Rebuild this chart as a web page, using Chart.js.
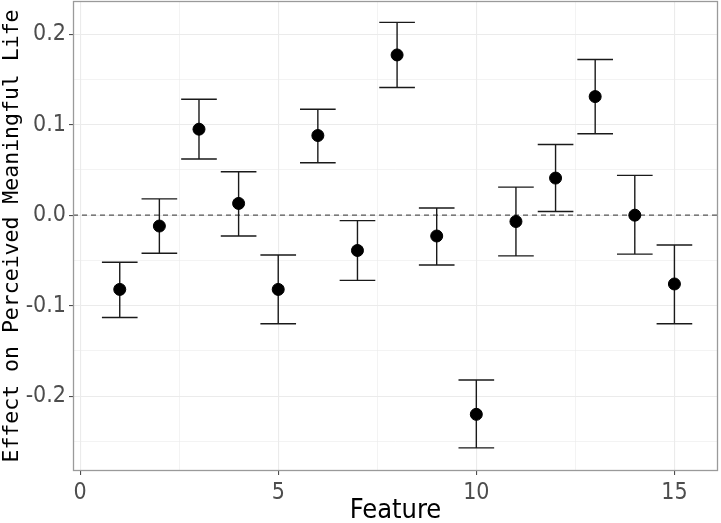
<!DOCTYPE html>
<html>
<head>
<meta charset="utf-8">
<script src="https://cdn.jsdelivr.net/npm/chart.js@4"></script>
<style>
  html, body { margin: 0; padding: 0; background: #fff; }
  #wrap { width: 721px; height: 523px; }
</style>
</head>
<body>
<div id="wrap"><canvas id="chart" width="721" height="523"></canvas></div>
<script>
//----- Data -----//

const features = [1, 2, 3, 4, 5, 6, 7, 8, 9, 10, 11, 12, 13, 14, 15]
const effect = [-0.082, -0.012, 0.095, 0.013, -0.082, 0.088, -0.039, 0.177, -0.023, -0.220, -0.007, 0.041, 0.131, 0.000, -0.076]
const lower = [-0.113, -0.042, 0.062, -0.023, -0.120, 0.058, -0.072, 0.141, -0.055, -0.257, -0.045, 0.004, 0.090, -0.043, -0.120]
const upper = [-0.052, 0.018, 0.128, 0.048, -0.044, 0.117, -0.006, 0.213, 0.008, -0.182, 0.031, 0.078, 0.172, 0.044, -0.033]

const xTicks = [0, 2.5, 5, 7.5, 10, 12.5, 15]
const yTicks = [-0.25, -0.2, -0.15, -0.1, -0.05, 0, 0.05, 0.1, 0.15, 0.2]

//----- Build the series -----//

const capHalf = 0.45
const points = features.map((f, i) => ({ x: f, y: effect[i] }))

const bars = []
features.forEach((f, i) => {
  bars.push({ x: f, y: lower[i] }, { x: f, y: upper[i] }, { x: f, y: null })
  bars.push({ x: f - capHalf, y: upper[i] }, { x: f + capHalf, y: upper[i] }, { x: f, y: null })
  bars.push({ x: f - capHalf, y: lower[i] }, { x: f + capHalf, y: lower[i] }, { x: f, y: null })
})

const xMin = -0.18, xMax = 16.1
const yMin = -0.2826, yMax = 0.2366

const isMajorX = v => v % 5 === 0
const isMajorY = v => Math.round(v * 100) % 10 === 0

//----- Panel border -----//

const panelBorder = {
  id: 'panelBorder',
  afterDatasetsDraw(chart) {
    const a = chart.chartArea
    const ctx = chart.ctx
    ctx.save()
    ctx.strokeStyle = '#9a9a9a'
    ctx.lineWidth = 1.3
    ctx.strokeRect(a.left + 0.5, a.top + 0.5, a.right - a.left - 1, a.bottom - a.top - 1)
    ctx.restore()
  }
}

//----- Chart -----//

const tickFont = { family: '"Liberation Sans Narrow", "DejaVu Sans Condensed", sans-serif', size: 23 }

new Chart(document.getElementById('chart'), {
  type: 'scatter',
  data: {
    datasets: [
      {
        data: points,
        backgroundColor: '#000',
        borderColor: '#000',
        pointRadius: 6,
        pointHoverRadius: 6,
        order: 0
      },
      {
        data: bars,
        showLine: true,
        spanGaps: false,
        borderColor: '#1a1a1a',
        borderWidth: 1.4,
        pointRadius: 0,
        order: 1
      },
      {
        data: [{ x: xMin, y: 0 }, { x: xMax, y: 0 }],
        showLine: true,
        borderColor: '#555',
        borderWidth: 1.3,
        borderDash: [5, 4],
        pointRadius: 0,
        order: 2
      }
    ]
  },
  options: {
    responsive: false,
    animation: false,
    layout: { autoPadding: false, padding: { top: 1, right: 3, left: 0, bottom: 0 } },
    plugins: { legend: { display: false }, tooltip: { enabled: false } },
    scales: {
      x: {
        type: 'linear',
        min: xMin,
        max: xMax,
        afterBuildTicks: s => { s.ticks = xTicks.map(v => ({ value: v })) },
        afterFit: s => { s.height = 52; s.paddingLeft = 0; s.paddingRight = 0 },
        border: { display: false },
        grid: {
          color: '#ebebeb',
          lineWidth: c => (c.tick && isMajorX(c.tick.value) ? 1.1 : 0.6),
          tickColor: c => (c.tick && isMajorX(c.tick.value) ? '#4d4d4d' : 'rgba(0,0,0,0)'),
          tickLength: 4
        },
        ticks: {
          autoSkip: false,
          maxRotation: 0,
          padding: 4,
          color: '#4d4d4d',
          font: tickFont,
          callback: v => (isMajorX(v) ? String(v) : '')
        },
        title: {
          display: true,
          text: 'Feature',
          color: '#000',
          font: { family: '"Liberation Sans Narrow", "DejaVu Sans Condensed", sans-serif', size: 27 },
          padding: { top: 0, bottom: -4 }
        }
      },
      y: {
        type: 'linear',
        min: yMin,
        max: yMax,
        afterBuildTicks: s => { s.ticks = yTicks.map(v => ({ value: v })) },
        afterFit: s => { s.width = 73; s.paddingTop = 0; s.paddingBottom = 0 },
        border: { display: false },
        grid: {
          color: '#ebebeb',
          lineWidth: c => (c.tick && isMajorY(c.tick.value) ? 1.1 : 0.6),
          tickColor: c => (c.tick && isMajorY(c.tick.value) ? '#4d4d4d' : 'rgba(0,0,0,0)'),
          tickLength: 4
        },
        ticks: {
          autoSkip: false,
          padding: 3,
          color: '#4d4d4d',
          font: tickFont,
          callback: v => (isMajorY(v) ? v.toFixed(1) : '')
        },
        title: {
          display: true,
          text: 'Effect on Perceived Meaningful Life',
          color: '#000',
          font: { family: '"DejaVu Sans Mono", "Liberation Mono", monospace', size: 21.5 },
          padding: { top: 0, bottom: 0 }
        }
      }
    }
  },
  plugins: [panelBorder]
})
</script>
</body>
</html>
